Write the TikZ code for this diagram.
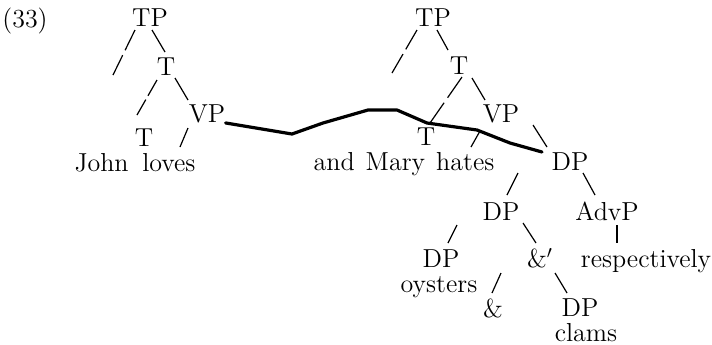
\documentclass[tikz,border=0pt]{standalone}
\usetikzlibrary{calc}
\begin{document}
\begin{tikzpicture}[x=0.5pt,y=-0.5pt,
  lbl/.style={anchor=base,inner sep=0pt,font=\fontsize{13}{16}\selectfont},
  branch/.style={line width=0.6pt},
  path/.style={line width=1.6pt,line join=round,line cap=round}]
\useasboundingbox (0,0) rectangle (712,344);
% helper: a branch drawn as two strokes with a small break
\newcommand{\gapbranch}[2]{\draw[branch] #1 -- ($#1!0.45!#2$) ($#1!0.56!#2$) -- #2;}

% example number
\node[lbl] (num) at (25,27) {(33)};

% left clause
\node[lbl] (tpA) at (150,26) {TP};
\node[lbl] (tA) at (166,75) {T};
\node[lbl] (vpA) at (207,122) {VP};
\node[lbl] (thA) at (144,146) {T};
\node[lbl] (wA) at (135,171) {John\hspace{0.2em} loves};

\gapbranch{(135,30)}{(113,75)}
\draw[branch] (152,30) -- (165,52);
\gapbranch{(157,80)}{(137,115)}
\draw[branch] (175,78) -- (188,100);
\draw[branch] (188,128) -- (180,147);

% right clause
\node[lbl] (tpB) at (433,26) {TP};
\node[lbl] (tB) at (459,74) {T};
\node[lbl] (vpB) at (501,122) {VP};
\node[lbl] (thB) at (426,145) {T};
\node[lbl] (wB) at (404,170) {and\hspace{0.1em} Mary\hspace{0.1em} hates};

\gapbranch{(417,30)}{(392,73)}
\draw[branch] (437,30) -- (448,50);
\gapbranch{(462,77)}{(430,123)}
\draw[branch] (472,78) -- (485,100);
\draw[branch] (480,131) -- (471,147);
\draw[branch] (533,125) -- (547,147);

% shared object
\node[lbl] (dpA) at (570,170) {DP};
\node[lbl] (dpB) at (501,220) {DP};
\node[lbl] (adv) at (607,220) {AdvP};
\node[lbl] (dpC) at (441,267) {DP};
\node[lbl] (amp1) at (540,267) {\&$'$};
\node[lbl] (resp) at (646,267) {respectively};
\node[lbl] (oys) at (439,292) {oysters};
\node[lbl] (amp) at (493,317) {\&};
\node[lbl] (dpD) at (580,316) {DP};
\node[lbl] (clm) at (586,341) {clams};

\draw[branch] (518,173) -- (507,195);
\draw[branch] (583,173) -- (595,195);
\draw[branch] (617,225) -- (617,243);
\draw[branch] (457,225) -- (448,243);
\draw[branch] (523,223) -- (536,243);
\draw[branch] (501,273) -- (492,293);
\draw[branch] (555,273) -- (567,293);

% across-the-board path from VP to DP
\draw[path] (vpA.south east) -- (292,134) -- (323,123) -- (368,110) -- (397,110)
  -- (427,123) -- (477,130) -- (510,143) -- (542,152);
\end{tikzpicture}
\end{document}
